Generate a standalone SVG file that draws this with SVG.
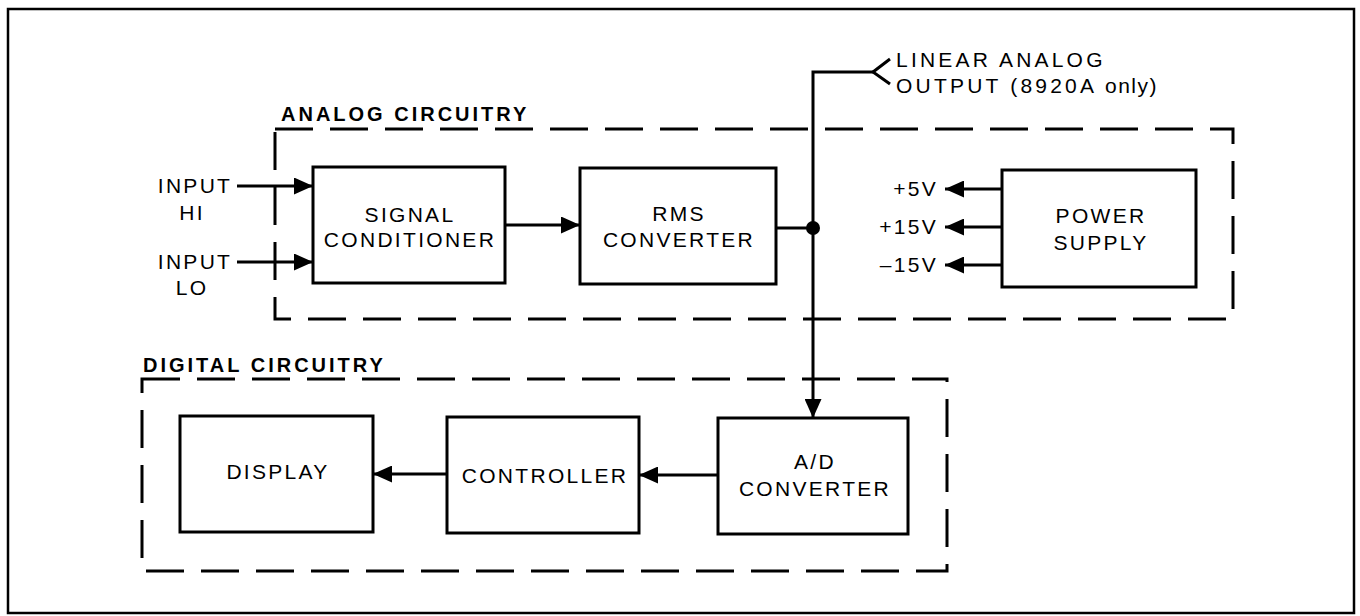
<svg xmlns="http://www.w3.org/2000/svg" width="1360" height="616" viewBox="0 0 1360 616">
<style>
text{font-family:"Liberation Sans",Arial,sans-serif;font-size:21px;letter-spacing:2.3px;fill:#000}
.t{font-size:20px;font-weight:bold;letter-spacing:3px}
.lo{letter-spacing:3.2px}
.box{fill:#fff;stroke:#000;stroke-width:3}
.dash{fill:none;stroke:#000;stroke-width:3;stroke-dasharray:38 17}
.c{fill:none;stroke:#000;stroke-width:3}
.m{text-anchor:middle}
.e{text-anchor:end}
</style>
<defs>
<marker id="ah" markerUnits="userSpaceOnUse" markerWidth="19" markerHeight="17" refX="19" refY="8.5" orient="auto">
<path d="M0,0 L19,8.5 L0,17 z" fill="#000"/>
</marker>
</defs>
<rect x="0" y="0" width="1360" height="616" fill="#fff"/>
<rect id="frame" x="8" y="9" width="1346" height="604" fill="none" stroke="#000" stroke-width="2.5"/>

<g id="analog-group">
<rect class="dash" x="275" y="129" width="958" height="190"/>
<text class="t" x="281" y="121">ANALOG CIRCUITRY</text>
</g>
<g id="digital-group">
<rect class="dash" x="142" y="379" width="805" height="192"/>
<text class="t" x="143" y="372">DIGITAL CIRCUITRY</text>
</g>

<g id="connectors">
<line class="c" x1="237" y1="186" x2="313" y2="186" marker-end="url(#ah)"/>
<line class="c" x1="237" y1="262" x2="313" y2="262" marker-end="url(#ah)"/>
<line class="c" x1="505" y1="225" x2="580" y2="225" marker-end="url(#ah)"/>
<line class="c" x1="776" y1="228" x2="813" y2="228"/>
<circle cx="813" cy="228" r="7" fill="#000"/>
<polyline class="c" points="873,72 813,72 813,418" marker-end="url(#ah)"/>
<polyline class="c" points="890,59 873,72 890,84"/>
<line class="c" x1="718" y1="475" x2="639" y2="475" marker-end="url(#ah)"/>
<line class="c" x1="447" y1="474" x2="373" y2="474" marker-end="url(#ah)"/>
<line class="c" x1="1002" y1="189" x2="945" y2="189" marker-end="url(#ah)"/>
<line class="c" x1="1002" y1="227" x2="945" y2="227" marker-end="url(#ah)"/>
<line class="c" x1="1002" y1="265" x2="945" y2="265" marker-end="url(#ah)"/>
</g>

<g id="input-hi">
<text class="m" x="195" y="193">INPUT</text>
<text class="m" x="192" y="220">HI</text>
</g>
<g id="input-lo">
<text class="m" x="195" y="269">INPUT</text>
<text class="m" x="192" y="295">LO</text>
</g>

<g id="signal-conditioner">
<rect class="box" x="313" y="167" width="192" height="116"/>
<text class="m" x="410" y="222">SIGNAL</text>
<text class="m" x="410" y="247">CONDITIONER</text>
</g>
<g id="rms-converter">
<rect class="box" x="580" y="168" width="196" height="116"/>
<text class="m" x="679" y="221">RMS</text>
<text class="m" x="679" y="247">CONVERTER</text>
</g>
<g id="power-supply">
<rect class="box" x="1002" y="170" width="194" height="117"/>
<text class="m" x="1101" y="223">POWER</text>
<text class="m" x="1101" y="250">SUPPLY</text>
</g>
<g id="voltages">
<text class="e" x="938" y="196">+5V</text>
<text class="e" x="938" y="234">+15V</text>
<text class="e" x="938" y="272">–15V</text>
</g>
<g id="linear-output">
<text class="lo" x="896" y="67">LINEAR ANALOG</text>
<text class="lo" x="896" y="93">OUTPUT (8920A <tspan letter-spacing="1.5">only)</tspan></text>
</g>

<g id="ad-converter">
<rect class="box" x="718" y="418" width="190" height="116"/>
<text class="m" x="815" y="469">A/D</text>
<text class="m" x="815" y="496">CONVERTER</text>
</g>
<g id="controller">
<rect class="box" x="447" y="417" width="192" height="116"/>
<text class="m" x="545" y="483">CONTROLLER</text>
</g>
<g id="display">
<rect class="box" x="180" y="416" width="193" height="116"/>
<text class="m" x="278" y="479">DISPLAY</text>
</g>
</svg>
